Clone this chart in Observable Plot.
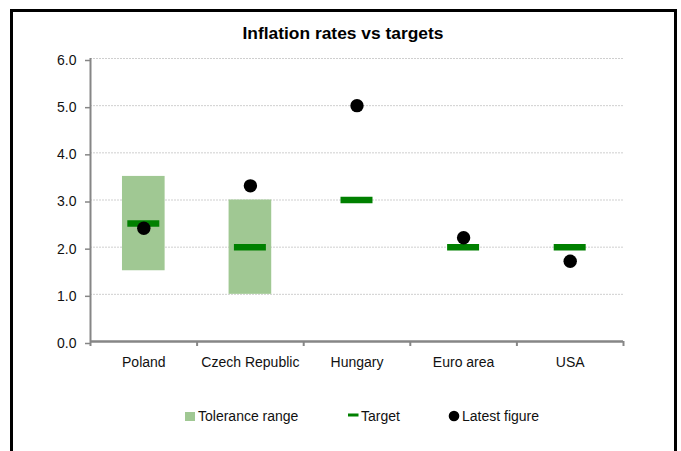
<!DOCTYPE html>
<html>
<head>
<meta charset="utf-8">
<script src="https://cdn.jsdelivr.net/npm/d3@7"></script>
<script src="https://cdn.jsdelivr.net/npm/@observablehq/plot@0.6"></script>
<style>
  html, body { margin: 0; padding: 0; background: #fff; }
  body { font-family: "Liberation Sans", Arial, sans-serif; color: #111; }
  #wrap { position: relative; width: 681px; height: 451px; overflow: hidden; background: #fff; }
  #chart { position: absolute; left: 0; top: 0; line-height: 0; }
  #chart svg { display: block; }
  #frame { position: absolute; left: 10px; top: 9px; width: 661px; height: 470px; border: 3px solid #000; z-index: 5; pointer-events: none; }
  #title { position: absolute; left: 0; top: 25px; width: 686px; text-align: center; font-weight: bold; font-size: 17.4px; line-height: 17px; z-index: 4; color: #000; }
  .leg { position: absolute; font-size: 14px; line-height: 14px; top: 409px; z-index: 4; color: #111; white-space: nowrap; }
  .sw { position: absolute; z-index: 4; }
</style>
</head>
<body>
<div id="wrap">
  <div id="chart"></div>
  <div id="title">Inflation rates vs targets</div>
  <div id="legend"></div>
  <div id="frame"></div>
</div>
<script>
const categories = ["Poland", "Czech Republic", "Hungary", "Euro area", "USA"];
const toleranceLow  = [1.5, 1.0, null, null, null];
const toleranceHigh = [3.5, 3.0, null, null, null];
const targets = [2.5, 2.0, 3.0, 2.0, 2.0];
const latestFigures = [2.4, 3.3, 5.0, 2.2, 1.7];
const yTicks = [0, 1, 2, 3, 4, 5, 6];
const seriesNames = ["Tolerance range", "Target", "Latest figure"];

const colTol = "#a0c893";
const colTarget = "#008000";
const colDot = "#000000";
const axisGray = "#868686";

const tolData = categories.map((c, i) => ({i, low: toleranceLow[i], high: toleranceHigh[i]}))
  .filter(d => d.low != null && d.high != null);
const tgtData = categories.map((c, i) => ({i, v: targets[i]}));
const latData = categories.map((c, i) => ({i, v: latestFigures[i]}));
const bounds = d3.range(categories.length + 1);
const centers = categories.map((c, i) => i + 0.5);

const chart = Plot.plot({
  width: 681,
  height: 380,
  marginTop: 58,
  marginBottom: 39,
  marginLeft: 90,
  marginRight: 58,
  style: {fontFamily: '"Liberation Sans", Arial, sans-serif', background: "transparent", color: "#111"},
  x: {type: "linear", domain: [0, categories.length], label: null},
  y: {domain: [0, 6], label: null},
  marks: [
    Plot.ruleY(yTicks.filter(v => v > 0), {stroke: "#cfcfcf", strokeWidth: 1, strokeDasharray: "2,1"}),
    Plot.rect(tolData, {x1: d => d.i + 0.3, x2: d => d.i + 0.7, y1: "low", y2: "high", fill: colTol}),
    Plot.ruleY(tgtData, {y: "v", x1: d => d.i + 0.35, x2: d => d.i + 0.65, stroke: colTarget, strokeWidth: 6.5}),
    Plot.dot(latData, {x: d => d.i + 0.5, y: "v", r: 6.7, fill: colDot, stroke: "none"}),
    Plot.ruleX([0], {stroke: axisGray, strokeWidth: 2}),
    Plot.ruleY([0], {stroke: axisGray, strokeWidth: 2.5}),
    Plot.axisY(yTicks, {tickSize: 5, tickPadding: 9, tickFormat: d3.format(".1f"), stroke: axisGray, strokeWidth: 1.5, fill: "#111", fontSize: 14, dy: 2, label: null}),
    Plot.axisX(bounds, {tickSize: 5, tickFormat: () => "", stroke: axisGray, strokeWidth: 2, label: null}),
    Plot.axisX(centers, {tickSize: 0, tickPadding: 16, tickFormat: d => categories[Math.floor(d)], fill: "#111", fontSize: 14, label: null})
  ]
});
document.getElementById("chart").appendChild(chart);

// Legend
const legend = document.getElementById("legend");
const svgNS = "http://www.w3.org/2000/svg";
function swatch(left, top, w, h, draw) {
  const s = document.createElementNS(svgNS, "svg");
  s.setAttribute("width", w); s.setAttribute("height", h);
  s.setAttribute("class", "sw");
  s.style.left = left + "px"; s.style.top = top + "px";
  draw(s);
  legend.appendChild(s);
}
function el(tag, attrs) {
  const e = document.createElementNS(svgNS, tag);
  for (const k in attrs) e.setAttribute(k, attrs[k]);
  return e;
}
swatch(185, 412, 10, 9, s => s.appendChild(el("rect", {x: 0, y: 0, width: 10, height: 9, fill: colTol})));
swatch(348, 413, 11, 4, s => s.appendChild(el("rect", {x: 0, y: 0.5, width: 10.5, height: 3, fill: colTarget})));
swatch(448, 410, 12, 12, s => s.appendChild(el("circle", {cx: 6, cy: 6, r: 5.3, fill: colDot})));
const legX = [198, 361, 462];
seriesNames.forEach((n, k) => {
  const d = document.createElement("div");
  d.className = "leg";
  d.style.left = legX[k] + "px";
  d.textContent = n;
  legend.appendChild(d);
});
</script>
</body>
</html>
